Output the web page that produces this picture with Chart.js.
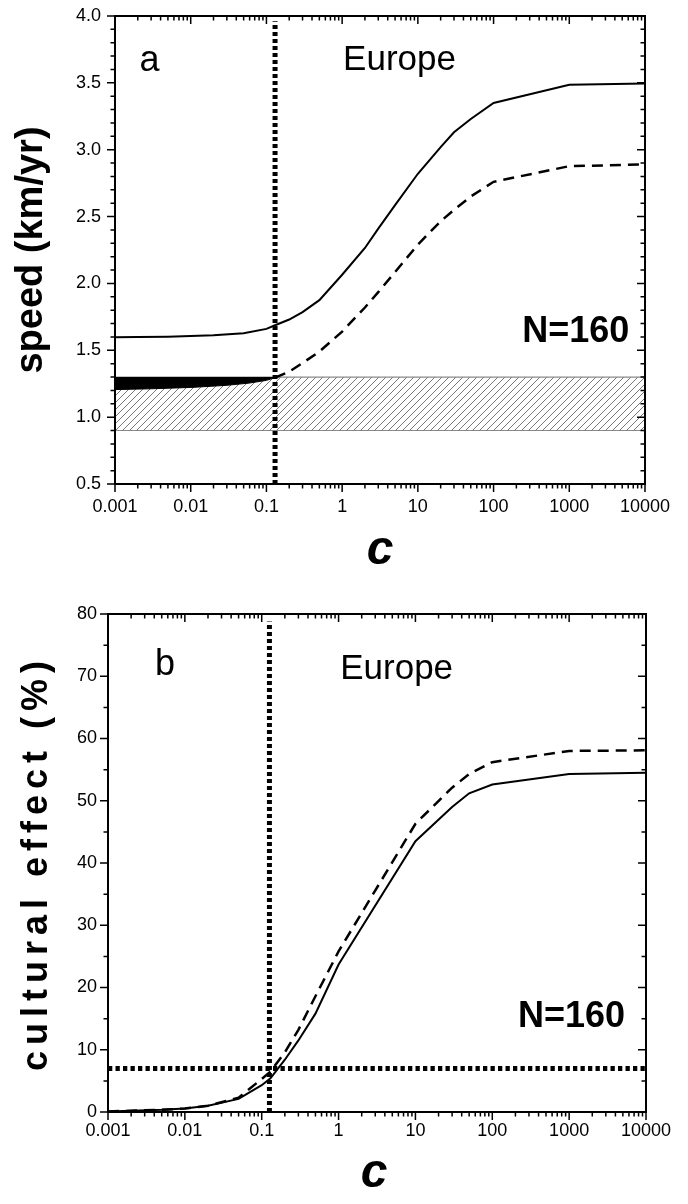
<!DOCTYPE html>
<html lang="en">
<head>
<meta charset="UTF-8">
<title>Europe: speed and cultural effect vs c</title>
<script src="https://cdn.jsdelivr.net/npm/chart.js"></script>
<style>
  body { margin: 0; background: #fff; }
  canvas { display: block; }
</style>
</head>
<body>
<canvas id="speedChart" width="688" height="590"></canvas>
<canvas id="cultureChart" width="688" height="614"></canvas>
<script>
// ---- shared axis ticks ----
const xTicks = [0.001, 0.01, 0.1, 1, 10, 100, 1000, 10000];
const xTickLabels = ['0.001', '0.01', '0.1', '1', '10', '100', '1000', '10000'];

// ---- panel a: speed (km/yr) ----
const yTicksA = [0.5, 1.0, 1.5, 2.0, 2.5, 3.0, 3.5, 4.0];
const yTickLabelsA = ['0.5', '1.0', '1.5', '2.0', '2.5', '3.0', '3.5', '4.0'];
const cSpeed = [0.001, 0.002, 0.005, 0.01, 0.02, 0.05, 0.1, 0.13, 0.2, 0.3, 0.5, 1, 2, 3, 5, 10, 20, 30, 50, 100, 1000, 10000];
const speedSolid = [1.598, 1.599, 1.602, 1.606, 1.612, 1.628, 1.66, 1.687, 1.73, 1.785, 1.875, 2.065, 2.265, 2.41, 2.585, 2.82, 3.02, 3.13, 3.23, 3.35, 3.485, 3.496];
const cSpeedDashed = [0.13, 0.2, 0.3, 0.5, 1, 2, 3, 5, 10, 20, 30, 50, 100, 1000, 10000];
const speedDashed = [1.295, 1.34, 1.405, 1.49, 1.64, 1.82, 1.935, 2.085, 2.29, 2.465, 2.55, 2.65, 2.76, 2.877, 2.89];
const cBlack = [0.001, 0.003, 0.01, 0.03, 0.06, 0.1, 0.13];
const blackLow = [1.206, 1.212, 1.222, 1.238, 1.255, 1.275, 1.295];
const bandRange = [0.9, 1.3];       // observed speed range (hatched)
const cThresholdA = 0.13;
const thresholdTopA = 3.96;

// ---- panel b: cultural effect (%) ----
const yTicksB = [0, 10, 20, 30, 40, 50, 60, 70, 80];
const yTickLabelsB = ['0', '10', '20', '30', '40', '50', '60', '70', '80'];
const cCult = [0.001, 0.002, 0.005, 0.01, 0.02, 0.05, 0.1, 0.13, 0.2, 0.3, 0.5, 1, 10, 30, 50, 100, 1000, 10000];
const cultSolid = [0.1, 0.2, 0.35, 0.55, 1.0, 2.1, 4.3, 5.4, 8.4, 11.5, 15.8, 23.7, 43.5, 49.0, 51.2, 52.6, 54.3, 54.5];
const cultDashed = [0.1, 0.2, 0.35, 0.55, 1.0, 2.3, 5.3, 6.5, 9.6, 13.2, 18.6, 25.8, 46.3, 52.1, 54.3, 56.2, 58.0, 58.1];
const cThresholdB = 0.126;
const thresholdTopB = 78.8;
const cultLevel = 7;

const FONT = "'Liberation Sans', Arial, sans-serif";
Chart.defaults.font.family = FONT;
Chart.defaults.color = '#000';

const pts = (xs, ys) => xs.map((x, i) => ({ x: x, y: ys[i] }));

// frame, mirrored ticks, text notes
const frameTicks = {
  id: 'frameTicks',
  beforeDraw(chart, args, opts) {
    chart.ctx.letterSpacing = opts.titleSpacing || '0px';
  },
  beforeDatasetsDraw(chart) {
    chart.ctx.letterSpacing = '0px';
  },
  afterDatasetsDraw(chart, args, opts) {
    const { ctx, chartArea: a, scales: { x, y } } = chart;
    ctx.save();
    ctx.strokeStyle = '#000';
    ctx.lineWidth = 1.5;
    ctx.beginPath();
    const xTick = (v, len) => {
      const p = x.getPixelForValue(v);
      ctx.moveTo(p, a.bottom); ctx.lineTo(p, a.bottom + len);
      ctx.moveTo(p, a.top); ctx.lineTo(p, a.top + len);
    };
    const yTick = (v, len) => {
      const p = y.getPixelForValue(v);
      ctx.moveTo(a.left - len, p); ctx.lineTo(a.left, p);
      ctx.moveTo(a.right - len, p); ctx.lineTo(a.right, p);
    };
    xTicks.forEach(v => xTick(v, 8));
    for (let i = 0; i < xTicks.length - 1; i++) {
      for (let k = 2; k <= 9; k++) xTick(xTicks[i] * k, 4.5);
    }
    opts.yTicks.forEach(v => yTick(v, 8));
    const y0 = opts.yTicks[0], y1 = opts.yTicks[opts.yTicks.length - 1];
    for (let v = y0 + opts.minorStep; v < y1 - 1e-9; v += opts.minorStep) yTick(v, 4.5);
    ctx.stroke();
    ctx.lineWidth = 2;
    ctx.strokeRect(a.left, a.top, a.right - a.left, a.bottom - a.top);

    ctx.fillStyle = '#000';
    ctx.textBaseline = 'alphabetic';
    opts.notes.forEach(n => {
      ctx.font = n.font;
      ctx.textAlign = n.align;
      ctx.fillText(n.text, x.getPixelForValue(n.x), y.getPixelForValue(n.y));
    });
    ctx.restore();
  }
};

function hatchPattern(ctx) {
  const t = document.createElement('canvas');
  t.width = 7; t.height = 7;
  const g = t.getContext('2d');
  g.strokeStyle = '#6a6a6a';
  g.lineWidth = 0.9;
  g.beginPath();
  g.moveTo(0, 7); g.lineTo(7, 0);
  g.moveTo(-1, 1); g.lineTo(1, -1);
  g.moveTo(6, 8); g.lineTo(8, 6);
  g.stroke();
  return ctx.createPattern(t, 'repeat');
}

function line(data, width, dash, extra) {
  return Object.assign({
    data: data, borderColor: '#000', borderWidth: width, borderDash: dash,
    pointRadius: 0, tension: 0, fill: false, borderCapStyle: 'butt'
  }, extra || {});
}

// labels may overhang the plot box; keep the box where it is
function noOverhang(s) {
  s.paddingTop = 0; s.paddingBottom = 0; s.paddingLeft = 0; s.paddingRight = 0;
}

function baseOptions(p) {
  return {
    responsive: false,
    animation: false,
    events: [],
    layout: { padding: { top: p.top, right: p.right, bottom: 0, left: 0 } },
    scales: {
      x: {
        type: 'logarithmic', min: 0.001, max: 10000,
        afterBuildTicks: s => { s.ticks = xTicks.map(v => ({ value: v })); },
        afterFit: s => { s.height = p.xHeight; noOverhang(s); },
        grid: { display: false, drawTicks: false },
        border: { display: false },
        ticks: { z: 1, autoSkip: false, maxRotation: 0, padding: p.xPad, font: { size: 18 },
                 callback: (v, i) => xTickLabels[i] },
        title: { display: true, text: 'c', font: { size: 48, weight: 'bold', style: 'italic', lineHeight: 1 },
                 padding: { top: 0, bottom: p.cPad } }
      },
      y: {
        type: 'linear', min: p.yTicks[0], max: p.yTicks[p.yTicks.length - 1],
        afterBuildTicks: s => { s.ticks = p.yTicks.map(v => ({ value: v })); },
        afterFit: s => { s.width = p.yWidth; noOverhang(s); },
        grid: { display: false, drawTicks: false },
        border: { display: false },
        ticks: { z: 1, autoSkip: false, padding: p.yPad, font: { size: 18 },
                 callback: (v, i) => p.yLabels[i] },
        title: { display: true, text: p.yTitle, font: { size: p.yTitleSize, weight: 'bold', lineHeight: 1 },
                 padding: { top: p.yTitlePad, bottom: 0 } }
      }
    },
    plugins: {
      legend: { display: false },
      tooltip: { enabled: false },
      frameTicks: { yTicks: p.yTicks, minorStep: p.minorStep, notes: p.notes, titleSpacing: p.titleSpacing }
    }
  };
}

// ---- chart a ----
const ctxA = document.getElementById('speedChart').getContext('2d');
new Chart(ctxA, {
  type: 'line',
  data: {
    datasets: [
      line([{ x: cThresholdA, y: yTicksA[0] }, { x: cThresholdA, y: thresholdTopA }], 5, [4, 3]),
      line(pts(cSpeed, speedSolid), 2, []),
      line(pts(cSpeedDashed, speedDashed), 2.5, [11, 7]),
      line(pts(cBlack, blackLow), 1, [], { fill: { value: bandRange[1] }, backgroundColor: '#000' }),
      line([{ x: 0.001, y: bandRange[1] }, { x: 10000, y: bandRange[1] }], 1.2, [],
           { borderColor: '#8a8a8a', fill: { value: bandRange[0] }, backgroundColor: hatchPattern(ctxA) }),
      line([{ x: 0.001, y: bandRange[0] }, { x: 10000, y: bandRange[0] }], 1.2, [], { borderColor: '#8a8a8a' })
    ]
  },
  options: baseOptions({
    top: 16, right: 43, xHeight: 106, yWidth: 115, xPad: 12, yPad: 14, cPad: 15,
    yTicks: yTicksA, yLabels: yTickLabelsA, minorStep: 0.1,
    yTitle: 'speed (km/yr)', yTitleSize: 38, yTitlePad: 13, titleSpacing: '0px',
    notes: [
      { text: 'a', x: 0.0021, y: 3.585, align: 'left', font: '36px ' + FONT },
      { text: 'Europe', x: 1.03, y: 3.595, align: 'left', font: '35px ' + FONT },
      { text: 'N=160', x: 6200, y: 1.56, align: 'right', font: 'bold 36px ' + FONT }
    ]
  }),
  plugins: [frameTicks]
});

// ---- chart b ----
const ctxB = document.getElementById('cultureChart').getContext('2d');
new Chart(ctxB, {
  type: 'line',
  data: {
    datasets: [
      line([{ x: cThresholdB, y: yTicksB[0] }, { x: cThresholdB, y: thresholdTopB }], 5, [4, 3]),
      line([{ x: 0.001, y: cultLevel }, { x: 10000, y: cultLevel }], 5, [4.3, 3.2]),
      line(pts(cCult, cultSolid), 2, []),
      line(pts(cCult, cultDashed), 2.5, [11, 7])
    ]
  },
  options: baseOptions({
    top: 24, right: 42, xHeight: 92, yWidth: 108, xPad: 8, yPad: 11, cPad: 6,
    yTicks: yTicksB, yLabels: yTickLabelsB, minorStep: 5,
    yTitle: 'cultural effect (%)', yTitleSize: 36, yTitlePad: 19, titleSpacing: '6px',
    notes: [
      { text: 'b', x: 0.0041, y: 70.2, align: 'left', font: '36px ' + FONT },
      { text: 'Europe', x: 1.05, y: 69.6, align: 'left', font: '35px ' + FONT },
      { text: 'N=160', x: 5340, y: 13.6, align: 'right', font: 'bold 36px ' + FONT }
    ]
  }),
  plugins: [frameTicks]
});
</script>
</body>
</html>
